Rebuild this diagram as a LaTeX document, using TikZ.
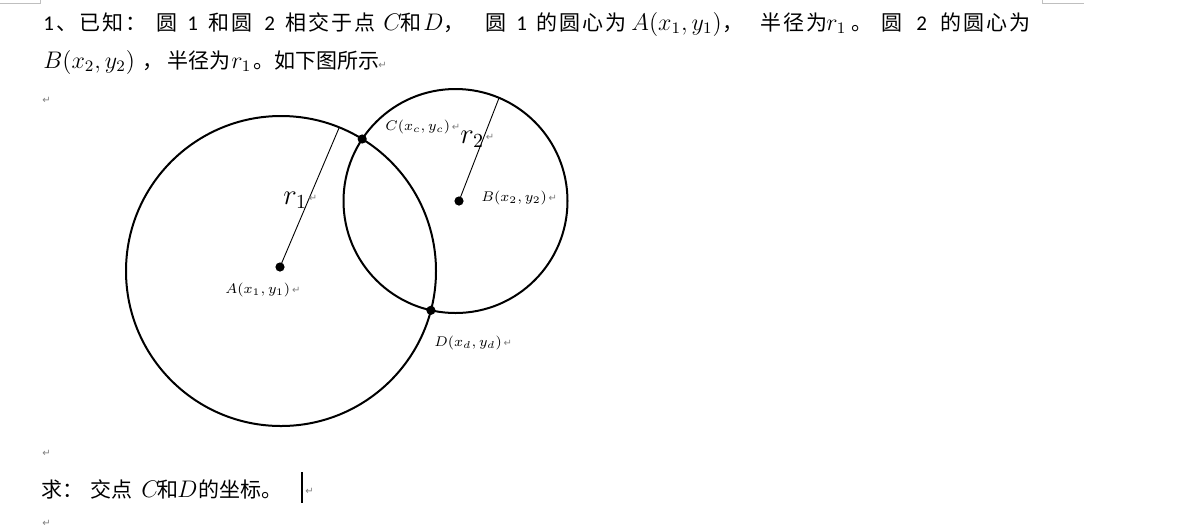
\documentclass[tikz,border=0pt]{standalone}
\usepackage{fontspec}
\usetikzlibrary{calc}
\setmainfont{Carlito}
\newfontfamily\zh{Noto Sans CJK SC}
\newfontfamily\zhj[LetterSpace=10]{Noto Sans CJK SC}
\newfontfamily\symf{DejaVu Sans}
\begin{document}
\begin{tikzpicture}[x=0.5pt,y=-0.5pt]
\tikzset{
  txt/.style={inner sep=0pt, anchor=base west, font=\fontsize{10.5}{12}\selectfont},
  mth/.style={inner sep=0pt, anchor=base west, font=\fontsize{12}{14}\selectfont},
  lbl/.style={inner sep=0pt, anchor=base west, font=\fontsize{7}{8}\selectfont},
  radlbl/.style={inner sep=0pt, anchor=base west, font=\fontsize{14}{15}\selectfont},
  pm/.style={inner sep=0pt, anchor=base west, font=\fontsize{5}{6}\symf, text=gray},
  circ/.style={line width=1pt},
  radl/.style={line width=0.45pt},
  dot/.style={circle, fill=black, inner sep=0pt, minimum size=4.6pt},
  corner/.style={line width=0.5pt, draw=black!25},
}
\useasboundingbox (0,0) rectangle (1189,527);
\fill[white] (0,0) rectangle (1189,527);
% page corner marks
\coordinate (k1) at (0,3); \coordinate (k2) at (40,3); \coordinate (k3) at (40,0);
\draw[corner] (k1) -- (k2) -- (k3);
\coordinate (k4) at (1042,0); \coordinate (k5) at (1042,3); \coordinate (k6) at (1084,3);
\draw[corner] (k4) -- (k5) -- (k6);

% line 1
\node[txt] (t1) at (43,30) {1};
\node[txt] (t2) at (56,30) {\zhj 、已知：};
\node[txt] (t3) at (156,30) {\zh 圆};
\node[txt] (t4) at (187,30) {1};
\node[txt] (t5) at (208,30) {\zhj 和圆};
\node[txt] (t6) at (264,30) {2};
\node[txt] (t7) at (285,30) {\zhj 相交于点};
\node[mth] (t8) at (383,30) {$C$};
\node[txt] (t9) at (400,30) {\zh 和};
\node[mth] (t10) at (423,30) {$D$};
\node[txt] (t11) at (443,30) {\zh ，};
\node[txt] (t12) at (485,30) {\zh 圆};
\node[txt] (t13) at (516,30) {1};
\node[txt] (t14) at (536,30) {\zhj 的圆心为};
\node[mth] (t15) at (631,30) {$A(x_1,y_1)$};
\node[txt] (t16) at (722,30) {\zh ，};
\node[txt] (t17) at (760,30) {\zhj 半径为};
\node[mth] (t18) at (826,30) {$r_1$};
\node[txt] (t19) at (851,30) {\zh 。};
\node[txt] (t20) at (881,30) {\zh 圆};
\node[txt] (t21) at (916,30) {2};
\node[txt] (t22) at (940,30) {\zhj 的圆心为};

% line 2
\node[mth] (u1) at (43,68) {$B(x_2,y_2)$};
\node[txt] (u2) at (142,68) {\zh ，};
\node[txt] (u3) at (167,68) {\zh 半径为};
\node[mth] (u4) at (231,68) {$r_1$};
\node[txt] (u5) at (253,68) {\zh 。如下图所示};
\node[pm] (u6) at (378,68) {↵};
\node[pm] (p1) at (42,103) {↵};

% circles
\coordinate (O1) at (281,271);
\coordinate (O2) at (455.5,201);
\draw[circ] (O1) circle[radius=155];
\draw[circ] (O2) circle[radius=112];

% centres and radii
\node[dot] (A) at (280,267) {};
\node[dot] (B) at (459,201) {};
\coordinate (R1) at (339,128);
\coordinate (R2) at (499,98);
\draw[radl] (A.center) -- (R1);
\draw[radl] (B.center) -- (R2);

% intersection points
\node[dot] (C) at (362.2,139) {};
\node[dot] (D) at (430.9,310.3) {};

% labels
\node[lbl] (lc) at (385,130.5) {$C(x_c,y_c)$};
\node[pm] (lcm) at ($(lc.base east)+(1,0)$) {↵};
\node[radlbl] (lr2) at (460,143) {$r_2$};
\node[pm] (lr2m) at ($(lr2.base east)+(1,-3)$) {↵};
\node[radlbl] (lr1) at (283,204) {$r_1$};
\node[pm] (lr1m) at ($(lr1.base east)+(1,-3)$) {↵};
\node[lbl] (lb) at (481,201) {$B(x_2,y_2)$};
\node[pm] (lbm) at ($(lb.base east)+(1,0)$) {↵};
\node[lbl] (la) at (225,293) {$A(x_1,y_1)$};
\node[pm] (lam) at ($(la.base east)+(1,0)$) {↵};
\node[lbl] (ld) at (434,346) {$D(x_d,y_d)$};
\node[pm] (ldm) at ($(ld.base east)+(1,0)$) {↵};

\node[pm] (p2) at (42,456) {↵};

% bottom line
\node[txt] (b1) at (41,497) {\zh 求：};
\node[txt] (b2) at (90,497) {\zh 交点};
\node[mth] (b3) at (141,497) {$C$};
\node[txt] (b4) at (157,497) {\zh 和};
\node[mth] (b5) at (177,497) {$D$};
\node[txt] (b6) at (198,497) {\zh 的坐标。};
\coordinate (cur1) at (302,472);
\coordinate (cur2) at (302,503);
\draw[line width=0.6pt] (cur1) -- (cur2);
\node[pm] (p3) at (305,494) {↵};
\node[pm] (p4) at (42,526) {↵};
\end{tikzpicture}
\end{document}
